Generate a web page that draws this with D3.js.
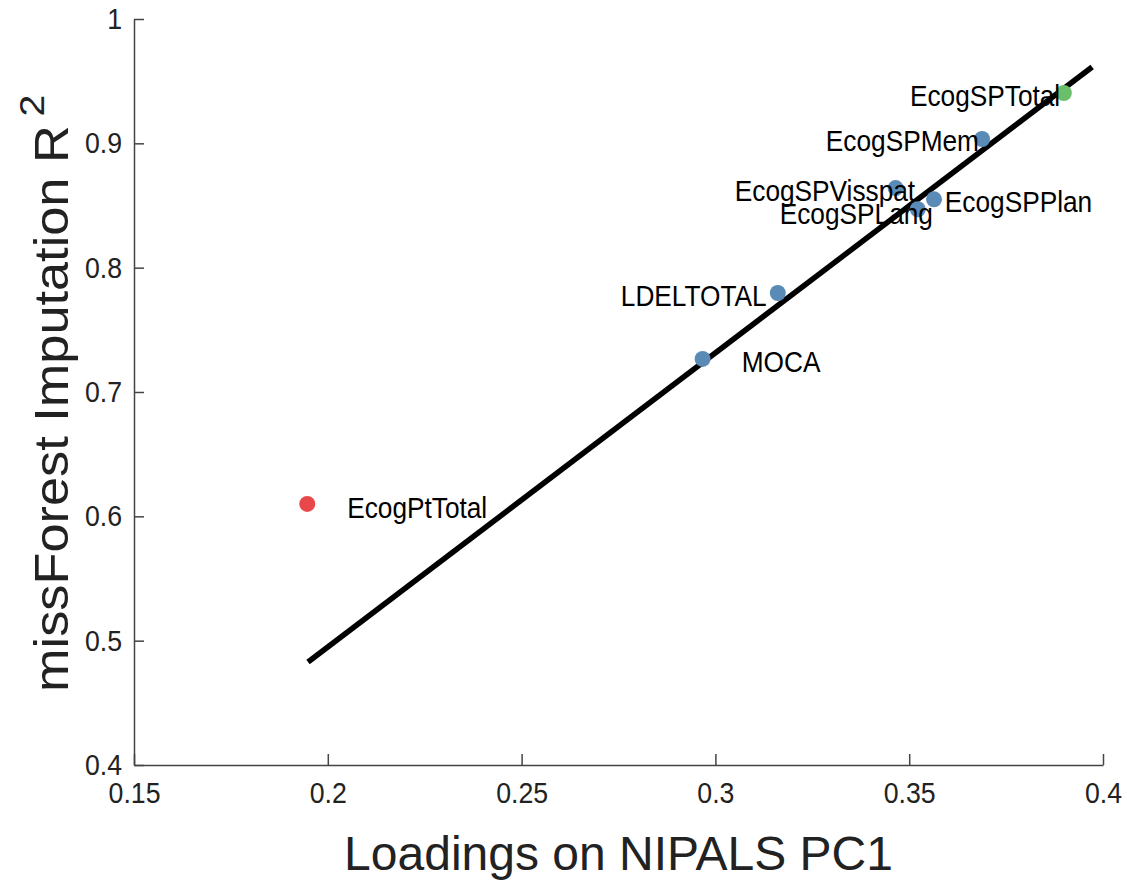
<!DOCTYPE html>
<html>
<head>
<meta charset="utf-8">
<script src="https://cdn.jsdelivr.net/npm/d3@7"></script>
<style>
  body { margin: 0; background: #fff; }
  text { font-family: "Liberation Sans", Arial, sans-serif; }
</style>
</head>
<body>
<div id="chart"></div>
<script>
// Loadings vs imputation R^2 scatter

var names   = ["EcogPtTotal", "MOCA", "LDELTOTAL", "EcogSPVisspat", "EcogSPLang", "EcogSPPlan", "EcogSPMem", "EcogSPTotal"];
var loading = [0.1947, 0.2967, 0.3161, 0.3465, 0.3522, 0.3564, 0.3688, 0.3899];
var r2      = [0.610, 0.7266, 0.7796, 0.864, 0.847, 0.855, 0.9035, 0.9405];
var group   = ["low", "mid", "mid", "mid", "mid", "mid", "mid", "high"];

// where each label sits (left edge x, middle y), in data units
var labelX = [0.2050, 0.3068, 0.2756, 0.3050, 0.3166, 0.3592, 0.3285, 0.3502];
var labelY = [0.6075, 0.7249, 0.778, 0.8625, 0.844, 0.8536, 0.9027, 0.9389];

// fitted line end points
var fitX = [0.1949, 0.3972];
var fitY = [0.4828, 0.9614];

var xTicks = [0.15, 0.2, 0.25, 0.3, 0.35, 0.4];
var yTicks = [0.4, 0.5, 0.6, 0.7, 0.8, 0.9, 1];

var width = 1127, height = 881;
var squeeze = 0.89;

var colors = { low: "#e8484a", mid: "#5a8bb6", high: "#6cbf6a" };

var svg = d3.select("#chart").append("svg")
  .attr("width", width)
  .attr("height", height);

var x = d3.scaleLinear().domain([0.15, 0.4]).range([134, 1103]);
var y = d3.scaleLinear().domain([0.4, 1]).range([765, 19]);

// axes, ticks point inward
var xAxis = d3.axisBottom(x).tickValues(xTicks).tickFormat(d3.format("~g"))
  .tickSizeInner(-11).tickSizeOuter(0).tickPadding(17);
var yAxis = d3.axisLeft(y).tickValues(yTicks).tickFormat(d3.format("~g"))
  .tickSizeInner(-10).tickSizeOuter(0).tickPadding(12);

var gx = svg.append("g")
  .attr("transform", "translate(0," + y(0.4) + ")")
  .call(xAxis);
var gy = svg.append("g")
  .attr("transform", "translate(" + x(0.15) + ",0)")
  .call(yAxis);

[gx, gy].forEach(function(g) {
  g.select(".domain").attr("stroke", "#444").attr("stroke-width", 1.5);
  g.selectAll(".tick line").attr("stroke", "#444").attr("stroke-width", 1.5);
  g.selectAll(".tick text")
    .attr("fill", "#222")
    .style("font-size", "30px");
});
gx.selectAll(".tick text").attr("transform", "scale(" + squeeze + ",1)");
gy.selectAll(".tick text")
  .attr("x", 0)
  .attr("transform", "translate(-12,0) scale(" + squeeze + ",1)");

// fitted line
svg.append("line")
  .attr("x1", x(fitX[0])).attr("y1", y(fitY[0]))
  .attr("x2", x(fitX[1])).attr("y2", y(fitY[1]))
  .attr("stroke", "#000")
  .attr("stroke-width", 5.5);

// points
var pts = names.map(function(n, i) {
  return { name: n, x: loading[i], y: r2[i], g: group[i], lx: labelX[i], ly: labelY[i] };
});

svg.append("g").selectAll("circle")
  .data(pts).enter()
  .append("circle")
  .attr("cx", function(d) { return x(d.x); })
  .attr("cy", function(d) { return y(d.y); })
  .attr("r", 8)
  .attr("fill", function(d) { return colors[d.g]; });

// labels drawn over the line, like the original
svg.append("g").selectAll("text")
  .data(pts).enter()
  .append("text")
  .attr("transform", function(d) {
    return "translate(" + x(d.lx) + "," + y(d.ly) + ") scale(" + squeeze + ",1)";
  })
  .attr("dy", "0.36em")
  .style("font-size", "29.5px")
  .attr("fill", "#000")
  .text(function(d) { return d.name; });

// axis titles
svg.append("text")
  .attr("x", (x(0.15) + x(0.4)) / 2)
  .attr("y", 870)
  .attr("text-anchor", "middle")
  .style("font-size", "48px")
  .attr("fill", "#222")
  .text("Loadings on NIPALS PC1");

var yt = svg.append("text")
  .attr("transform", "translate(68,692) rotate(-90) scale(1.09,1)")
  .style("font-size", "48px")
  .attr("fill", "#222");
yt.append("tspan").text("missForest Imputation R");
yt.append("tspan")
  .attr("dx", 8)
  .attr("dy", -24)
  .style("font-size", "36px")
  .text("2");
</script>
</body>
</html>
